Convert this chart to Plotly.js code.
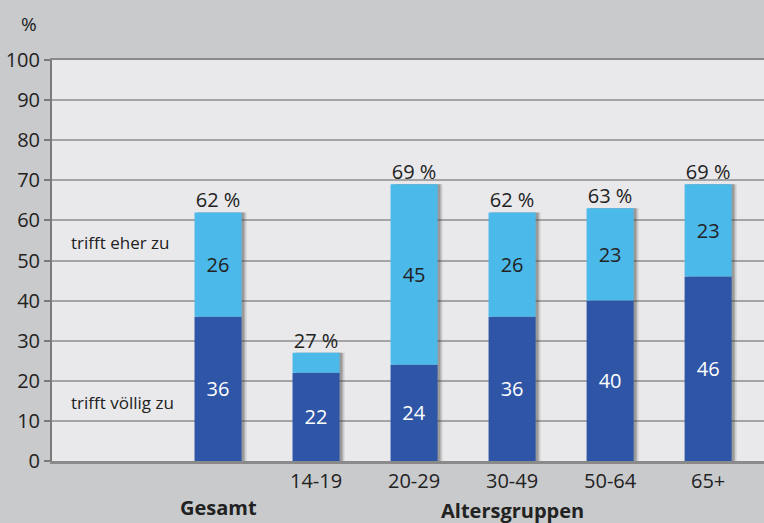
<!DOCTYPE html>
<html>
<head>
<meta charset="utf-8">
<script src="https://cdn.plot.ly/plotly-3.0.1.min.js"></script>
<style>html,body{margin:0;padding:0;background:#c9cacc;}#chart{width:764px;height:523px;}</style>
</head>
<body>
<div id="chart"></div>
<script>
const categories = ["Gesamt", "14-19", "20-29", "30-49", "50-64", "65+"];
const voellig = [36, 22, 24, 36, 40, 46];
const eher = [26, 5, 45, 26, 23, 23];
const totals = [62, 27, 69, 62, 63, 69];
const yTicks = [0,10,20,30,40,50,60,70,80,90,100];

const xs = categories.map((c, i) => i);
const totalText = totals.map(t => t + " %");
const eherText = eher.map(v => v >= 10 ? String(v) : "");
const FONT = "Open Sans, Noto Sans, sans-serif";
const BW = 0.48;

const traces = [
  { type: "bar", x: xs.map(x => x + 0.05), y: totals, width: BW, base: 0,
    marker: { color: "rgba(80,80,80,0.18)", line: {width: 0} },
    hoverinfo: "skip", showlegend: false },
  { type: "bar", x: xs.map(x => x + 0.03), y: totals, width: BW, base: 0,
    marker: { color: "rgba(60,60,60,0.35)", line: {width: 0} },
    hoverinfo: "skip", showlegend: false },
  { type: "bar", x: xs, y: voellig, base: 0, width: BW, name: "trifft völlig zu",
    marker: { color: "#2f56a6", line: {width: 0} },
    text: voellig.map(String), textposition: "inside", insidetextanchor: "middle",
    textfont: { color: "#ffffff", size: 20, family: FONT }, showlegend: false },
  { type: "bar", x: xs, y: eher, base: voellig, width: BW, name: "trifft eher zu",
    marker: { color: "#4bb9ea", line: {width: 0} },
    text: eherText, textposition: "inside", insidetextanchor: "middle",
    textfont: { color: "#222222", size: 20, family: FONT }, showlegend: false },
  { type: "scatter", mode: "text", x: xs, y: totals, text: totalText,
    textposition: "top center", cliponaxis: false,
    textfont: { color: "#222222", size: 20, family: FONT }, showlegend: false, hoverinfo: "skip" }
];

const layout = {
  width: 764, height: 523,
  margin: { l: 52, r: 0, t: 60, b: 62 },
  paper_bgcolor: "#c9cacc",
  plot_bgcolor: "#e9e9eb",
  barmode: "overlay",
  font: { family: FONT, color: "#222222", size: 20 },
  xaxis: {
    range: [-1.694, 5.57],
    tickvals: xs.slice(1), ticktext: categories.slice(1),
    showgrid: false, zeroline: false,
    showline: true, mirror: true, linecolor: "#8a8a8a", linewidth: 2.5,
    ticks: "", tickfont: { size: 20, family: FONT, color: "#222" }
  },
  yaxis: {
    range: [0, 100], tickvals: yTicks,
    showgrid: true, gridcolor: "#a4a4a6", gridwidth: 2,
    zeroline: false, showline: true, linecolor: "#7a7a7a", linewidth: 2,
    ticks: "outside", ticklen: 6, tickcolor: "#7a7a7a", tickwidth: 2,
    tickfont: { size: 20, family: FONT, color: "#222" }
  },
  annotations: [
    { xref: "paper", yref: "paper", x: -0.033, y: 1.09, text: "%", showarrow: false,
      xanchor: "center", yanchor: "middle", font: { size: 19, family: FONT, color: "#222" } },
    { xref: "x", yref: "y", x: -1.52, y: 54.4, text: "trifft eher zu", showarrow: false,
      xanchor: "left", yanchor: "middle", font: { size: 17, family: FONT, color: "#222" } },
    { xref: "x", yref: "y", x: -1.52, y: 14.5, text: "trifft völlig zu", showarrow: false,
      xanchor: "left", yanchor: "middle", font: { size: 17, family: FONT, color: "#222" } },
    { xref: "x", yref: "paper", x: 0, y: -0.117, text: "<b>" + categories[0] + "</b>", showarrow: false,
      xanchor: "center", yanchor: "middle", font: { size: 20, family: FONT, color: "#222" } },
    { xref: "x", yref: "paper", x: 3, y: -0.124, text: "<b>Altersgruppen</b>", showarrow: false,
      xanchor: "center", yanchor: "middle", font: { size: 20, family: FONT, color: "#222" } }
  ]
};

Plotly.newPlot("chart", traces, layout, { displayModeBar: false, staticPlot: true });
</script>
</body>
</html>
